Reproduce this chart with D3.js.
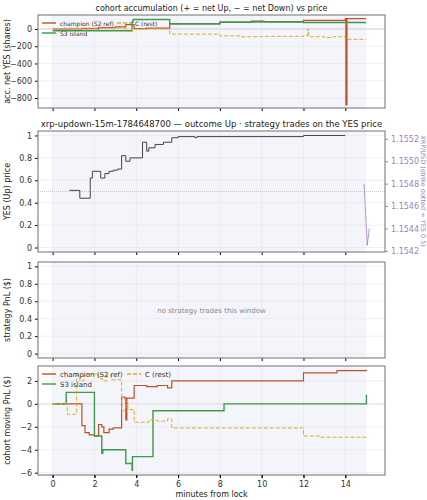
<!DOCTYPE html><html><head><meta charset="utf-8"><script src="https://cdn.jsdelivr.net/npm/d3@7"></script>
<style>body{margin:0;background:#fff}text{font-family:"DejaVu Sans",sans-serif}</style></head><body><svg id="c" width="427" height="500"></svg>
<script>
const accChamp=[[0,0],[1.4,5],[2.2,15],[3.0,25],[3.5,50],[3.9,5],[4.5,10],[5.6,60],[8,75],[9.5,90],[10,85],[12,100],[14,120],[14.03,-880],[14.08,120],[15,120]];
const accS3=[[0,-20],[3.8,80],[3.85,110],[5.6,60],[8,80],[10,90],[10.1,80],[12,75],[15,75]];
const accC=[[0.5,10],[3.5,-30],[3.8,0],[5.6,-60],[8,-80],[9,-90],[10,-85],[12,-80],[12.2,0],[12.25,-90],[13,-100],[13.4,-90],[14,-120],[15,-120]];
const yesPrice=[[0.8,0.51],[1.3,0.44],[1.8,0.62],[1.9,0.68],[2.3,0.62],[2.5,0.66],[2.7,0.68],[2.9,0.69],[3.1,0.70],[3.3,0.82],[3.5,0.77],[3.7,0.80],[4.3,0.94],[4.5,0.86],[4.6,0.89],[4.9,0.92],[5.3,0.94],[5.7,0.98],[6.0,0.99],[6.8,0.98],[6.9,0.99],[12,1.0],[14,1.0]];
const xrpPrice=[[14.9,1.1548],[15.05,1.15425],[15.15,1.1544]];
const pnlChamp=[[0,0],[1.4,-1.9],[1.55,-2.5],[1.75,-2.7],[2.0,-2.8],[2.2,-1.8],[2.35,-2.0],[2.45,-2.5],[2.7,-2.2],[2.9,-2.1],[3.3,0.6],[3.45,0.5],[3.5,-1.4],[3.55,0.5],[3.9,1.6],[4.5,1.5],[5.0,1.6],[5.5,1.4],[5.7,2.0],[12,2.7],[13.6,2.9],[15,3.0]];
const pnlS3=[[0,0],[0.65,1.0],[2.0,-2.8],[2.35,-4.3],[2.4,-4.0],[3.5,-5.2],[3.8,-5.8],[3.82,-4.6],[4.8,-0.6],[8.2,0],[15,0],[15.01,0.8]];
const pnlC=[[0,0],[0.7,-0.9],[1.15,2.5],[1.3,2.0],[1.5,2.6],[2.2,2.2],[2.4,2.0],[2.6,2.5],[2.8,2.1],[3.3,-0.6],[3.5,0.2],[3.6,-0.5],[3.9,-1.6],[4.6,-1.4],[5.0,-1.5],[5.5,-1.3],[5.7,-2.1],[12,-2.8],[12.8,-2.9],[15,-3.0]];
const xTicks=[0,2,4,6,8,10,12,14];
const cChamp="#c0502a",cS3="#3d9a4c",cC="#e3aa1f",cXrp="#9b7fc4";
const svg=d3.select("#c");
const L=38,R=385;
const x=d3.scaleLinear().domain([-0.7,15.9]).range([L,R]);
function panel(top,bot,yd,ticks,ylabel,title){
  const g=svg.append("g");
  const y=d3.scaleLinear().domain(yd).range([bot,top]);
  g.append("rect").attr("x",L).attr("y",top).attr("width",R-L).attr("height",bot-top).attr("fill","#fff");
  g.append("rect").attr("x",x(0)).attr("y",top).attr("width",x(15)-x(0)).attr("height",bot-top).attr("fill","#f4f5fb");
  xTicks.forEach(t=>g.append("line").attr("x1",x(t)).attr("x2",x(t)).attr("y1",top).attr("y2",bot).attr("stroke","#e4e4ea").attr("stroke-width",0.6));
  ticks.forEach(t=>g.append("line").attr("x1",L).attr("x2",R).attr("y1",y(t)).attr("y2",y(t)).attr("stroke","#e4e4ea").attr("stroke-width",0.6));
  const ax=g.append("g").attr("transform",`translate(${L},0)`).call(d3.axisLeft(y).tickValues(ticks).tickSize(3).tickFormat(d=>(Math.abs(d)<1e-9?"0":d3.format(".1~f")(d)).replace("-","−").replace(/^(\d)$/,"$1")));
  ax.select(".domain").remove();ax.selectAll("text").attr("font-size",8).attr("fill","#333");
  const bx=g.append("g").attr("transform",`translate(0,${bot})`).call(d3.axisBottom(x).tickValues(xTicks).tickSize(3).tickFormat(""));
  bx.select(".domain").remove();
  g.append("text").attr("transform",`translate(10,${(top+bot)/2}) rotate(-90)`).attr("text-anchor","middle").attr("font-size",8).attr("fill","#222").text(ylabel);
  if(title)g.append("text").attr("x",(L+R)/2).attr("y",top-4).attr("text-anchor","middle").attr("font-size",title[1]).attr("fill","#222").text(title[0]);
  return {g,y,top,bot};
}
function frame(p){p.g.append("rect").attr("x",L).attr("y",p.top).attr("width",R-L).attr("height",p.bot-p.top).attr("fill","none").attr("stroke","#888").attr("stroke-width",1.2);}
function step(p,data,col,w,dash){p.g.append("path").datum(data).attr("d",d3.line().x(d=>x(d[0])).y(d=>p.y(d[1])).curve(d3.curveStepAfter)).attr("fill","none").attr("stroke",col).attr("stroke-width",w).attr("stroke-dasharray",dash||null);}
function legend(p,dx,dy,items){items.forEach((it,i)=>{const lx=p.g.append("g").attr("transform",`translate(${L+4+it[3]*dx},${p.top+8+it[4]*dy})`);lx.append("line").attr("x1",0).attr("x2",14).attr("stroke",it[1]).attr("stroke-width",1.4).attr("stroke-dasharray",it[2]||null);lx.append("text").attr("x",18).attr("y",3).attr("font-size",it[5]).attr("fill","#333").text(it[0]);});}
// panel 1
const p1=panel(15,108,[-916,162],[0,-200,-400,-600,-800],"acc. net YES (shares)",["cohort accumulation (+ = net Up, − = net Down) vs price",8]);
p1.g.append("line").attr("x1",L).attr("x2",R).attr("y1",p1.y(0)).attr("y2",p1.y(0)).attr("stroke","#ccc").attr("stroke-width",0.8);
step(p1,accChamp,cChamp,1.2);step(p1,accS3,cS3,1.4);step(p1,accC,cC,1,"4,2");
legend(p1,75,10,[["champion (S2 ref)",cChamp,null,0,0,6],["C (rest)",cC,"4,2",1,0,6],["S3 island",cS3,null,0,1,6]]);
frame(p1);
// panel 2
const p2=panel(131,252,[-0.04,1.04],[0,0.2,0.4,0.6,0.8,1.0],"YES (Up) price",["xrp-updown-15m-1784648700 — outcome Up · strategy trades on the YES price",8.5]);
p2.g.append("line").attr("x1",L).attr("x2",R).attr("y1",p2.y(0.5)).attr("y2",p2.y(0.5)).attr("stroke","#bbb").attr("stroke-width",0.8).attr("stroke-dasharray","1,1");
step(p2,yesPrice,"#444",1);
const y2r=d3.scaleLinear().domain([1.15419,1.15527]).range([252,131]);
p2.g.append("path").datum(xrpPrice).attr("d",d3.line().x(d=>x(d[0])).y(d=>y2r(d[1]))).attr("fill","none").attr("stroke",cXrp).attr("stroke-width",0.8);
const ra=p2.g.append("g").attr("transform",`translate(${R},0)`).call(d3.axisRight(y2r).tickValues([1.1542,1.1544,1.1546,1.1548,1.155,1.1552]).tickSize(3).tickFormat(d3.format(".4f")));
ra.select(".domain").remove();ra.selectAll("text").attr("font-size",8).attr("fill",cXrp);ra.selectAll("line").attr("stroke",cXrp);
p2.g.append("text").attr("transform",`translate(421,191) rotate(90)`).attr("text-anchor","middle").attr("font-size",6.5).attr("fill",cXrp).text("XRP/USD (strike dotted = YES 0.5)");
frame(p2);
// panel 3
const p3=panel(262,358,[-0.05,1.05],[0,0.2,0.4,0.6,0.8,1.0],"strategy PnL ($)",null);
p3.g.append("text").attr("x",(L+R)/2).attr("y",313).attr("text-anchor","middle").attr("font-size",7).attr("fill","#888").text("no strategy trades this window");
frame(p3);
// panel 4
const p4=panel(366,475,[-6.2,3.3],[-6,-4,-2,0,2],"cohort moving PnL ($)",null);
p4.g.append("line").attr("x1",L).attr("x2",R).attr("y1",p4.y(0)).attr("y2",p4.y(0)).attr("stroke","#ddd").attr("stroke-width",0.8);
step(p4,pnlChamp,cChamp,1.2);step(p4,pnlS3,cS3,1.4);step(p4,pnlC,cC,1,"4,2");
legend(p4,85,10,[["champion (S2 ref)",cChamp,null,0,0,7],["C (rest)",cC,"4,2",1,0,7],["S3 island",cS3,null,0,1,7]]);
frame(p4);
const bx=p4.g.append("g").attr("transform",`translate(0,475)`).call(d3.axisBottom(x).tickValues(xTicks).tickSize(3));
bx.select(".domain").remove();bx.selectAll("text").attr("font-size",8).attr("fill","#333");
svg.append("text").attr("x",(L+R)/2).attr("y",497).attr("text-anchor","middle").attr("font-size",8).attr("fill","#222").text("minutes from lock");
</script></body></html>
